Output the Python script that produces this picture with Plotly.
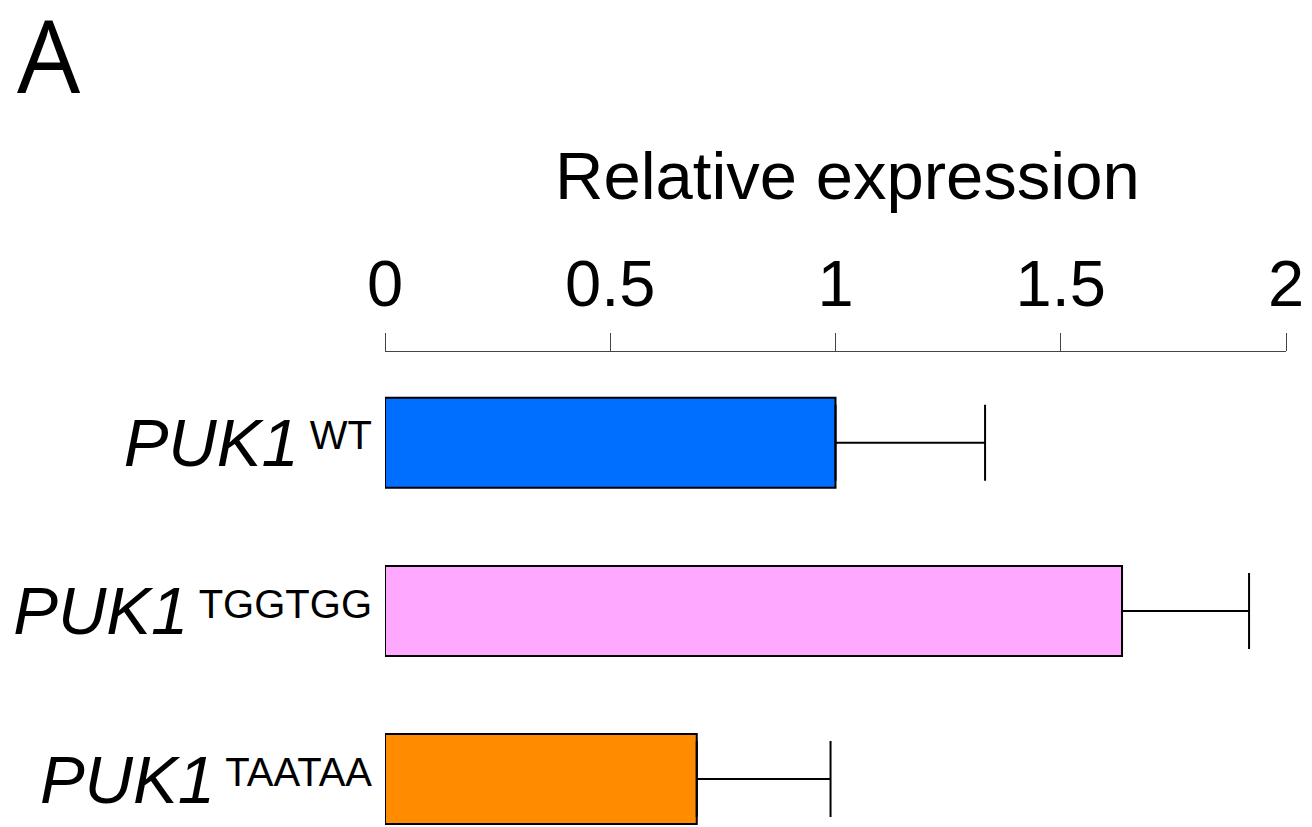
import plotly.graph_objects as go

categories = ["WT", "TGGTGG", "TAATAA"]
values = [1.0, 1.636, 0.692]
errors = [0.332, 0.282, 0.297]
colors = ["#006EFF", "#FFA8FF", "#FF8C00"]
x_ticks = [0, 0.5, 1, 1.5, 2]
x_tick_text = ["0", "0.5", "1", "1.5", "2"]

labels = [
    f"<i>PUK1</i><span style='font-size:40px'> <sup><span style='font-size:40px'>{c}</span></sup></span>"
    for c in categories
]

W, H = 1312, 827
L, R, T, B = 385, 26, 352, 0
PW, PH = W - L - R, H - T - B

fig = go.Figure()
fig.add_trace(go.Bar(
    y=labels, x=values, orientation="h",
    width=0.535,
    marker=dict(color=colors, line=dict(color="black", width=2)),
    error_x=dict(type="data", array=errors, arrayminus=[0] * len(errors),
                 symmetric=False, color="black", thickness=2, width=38),
))

fig.update_layout(
    width=W, height=H,
    margin=dict(l=L, r=R, t=T, b=B, autoexpand=False),
    paper_bgcolor="white", plot_bgcolor="white",
    showlegend=False,
    font=dict(family="Liberation Sans, Arial, sans-serif", color="black"),
    xaxis=dict(
        side="top", range=[0, 2], tickvals=x_ticks, ticktext=x_tick_text,
        showline=True, linecolor="#444", linewidth=1.3,
        ticks="outside", ticklen=18, tickwidth=1.3, tickcolor="#444",
        showgrid=False, zeroline=False, automargin=False,
        tickfont=dict(size=65, family="Liberation Sans, Arial, sans-serif"),
        ticklabelstandoff=1,
    ),
    yaxis=dict(
        type="category", range=[2.285, -0.54],
        showline=False, ticks="", showgrid=False, zeroline=False, automargin=False,
        tickfont=dict(size=67, family="Liberation Sans, Arial, sans-serif"),
        ticklabelstandoff=12,
    ),
    annotations=[
        dict(text="Relative expression", xref="paper", yref="paper",
             x=(847 - L) / PW, y=(H - 175) / PH, xanchor="center", yanchor="middle",
             showarrow=False, font=dict(size=67, family="Liberation Sans, Arial, sans-serif")),
        dict(text="A", xref="paper", yref="paper",
             x=(49 - L) / PW, y=(H - 54) / PH, xanchor="center", yanchor="middle",
             showarrow=False, font=dict(size=100, family="Open Sans, sans-serif")),
    ],
)

fig.write_html("out.html", config={"displayModeBar": False},
               post_script="document.body.style.margin='0';document.body.style.overflow='hidden';")
